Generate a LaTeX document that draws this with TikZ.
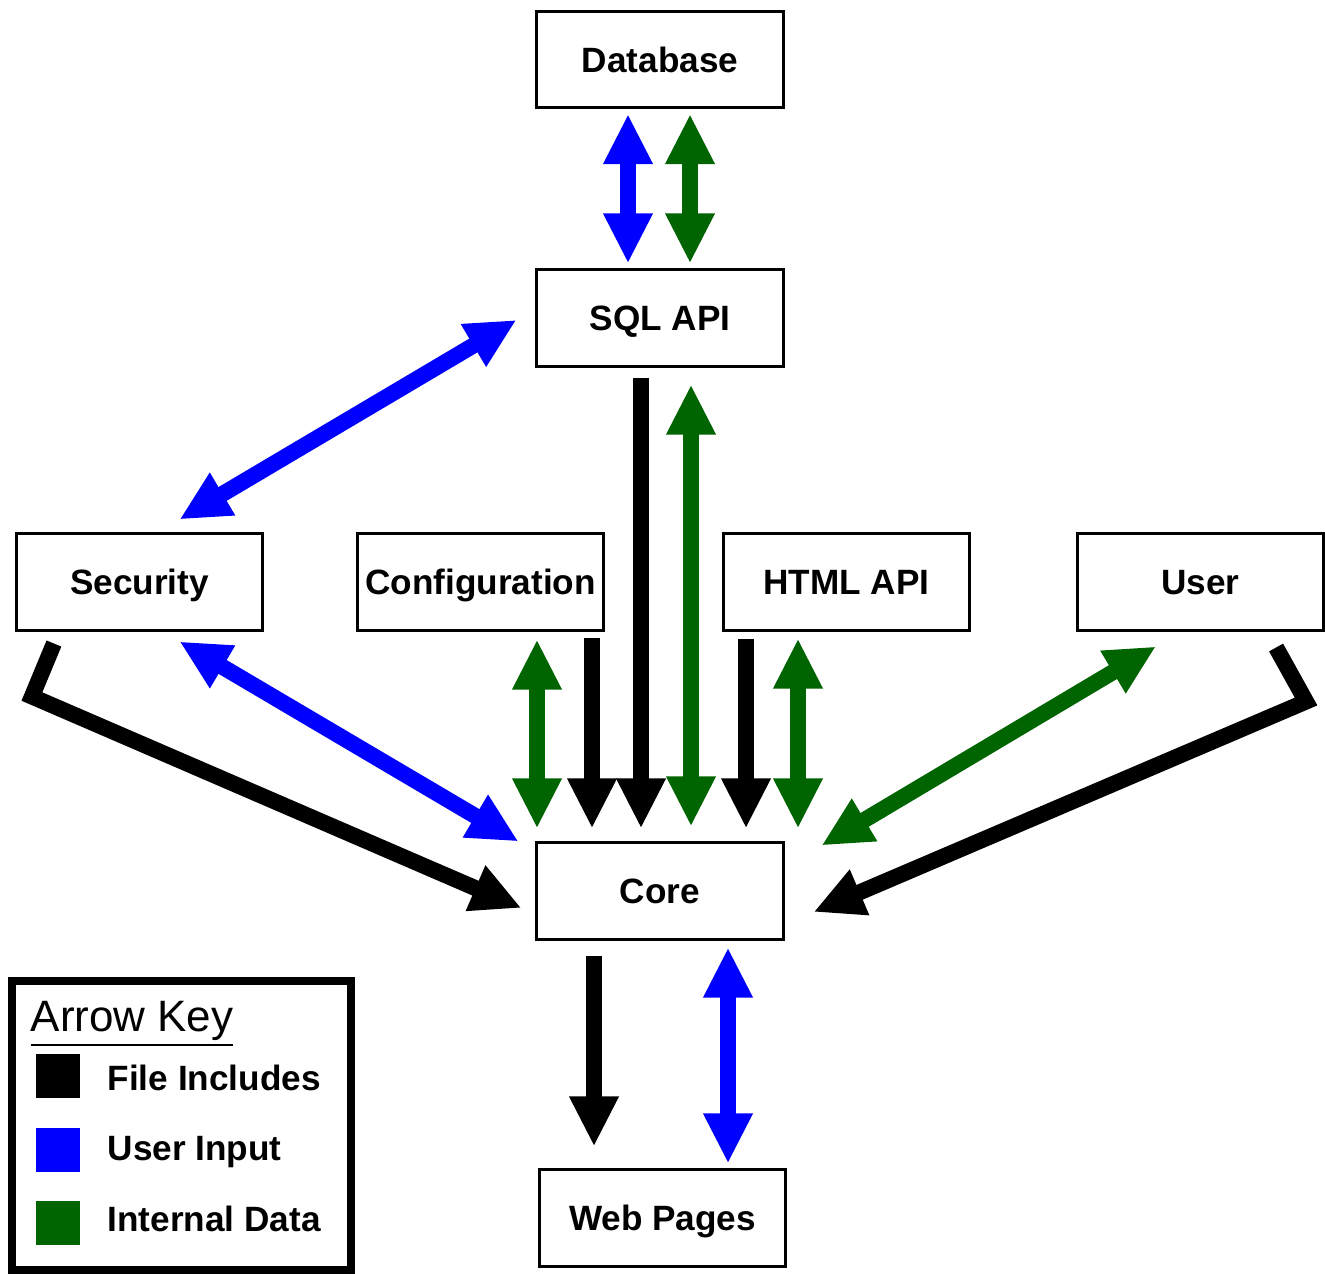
\documentclass[tikz,border=0pt]{standalone}
\usepackage{fontspec}
\setmainfont{Liberation Sans}
\usetikzlibrary{arrows.meta,calc}
\definecolor{inputblue}{RGB}{0,0,255}
\definecolor{datagreen}{RGB}{0,100,0}
\tikzset{
	module/.style={draw,line width=0.03cm,minimum width=2.46cm,minimum height=0.96cm,inner sep=0pt,text height=7.2pt,text depth=0pt,font=\bfseries\fontsize{10}{12}\selectfont},
	flow/.style={line width=0.16cm,-{Triangle[width=0.46cm,length=0.5cm]}},
	twoway/.style={line width=0.16cm,{Triangle[width=0.46cm,length=0.5cm]}-{Triangle[width=0.46cm,length=0.5cm]}},
	keybox/.style={minimum size=0.44cm,inner sep=0pt},
	keytext/.style={anchor=west,inner sep=0pt,font=\bfseries\fontsize{10}{12}\selectfont}
}

\begin{document}
\begin{tikzpicture}[x=0.01cm,y=-0.01cm]
				\useasboundingbox (0,0) rectangle (1325,1274);
				% modules
				\node[module] (db) at (660,59.5) {Database};
				\node[module] (sql) at (660,318) {SQL API};
				\node[module] (sec) at (139.5,582) {Security};
				\node[module] (conf) at (480.5,582) {Configuration};
				\node[module] (html) at (846.5,582) {HTML API};
				\node[module] (user) at (1200.5,582) {User};
				\node[module] (core) at (660,891) {Core};
				\node[module] (web) at (662.5,1218) {Web Pages};
				% database <-> sql
				\draw[twoway,inputblue] ($(db.south)+(-32,5)$) -- ($(sql.north)+(-32,-5)$);
				\draw[twoway,datagreen] ($(db.south)+(30,5)$) -- ($(sql.north)+(30,-5)$);
				\draw[twoway,inputblue] ($(sql.west)+(-19,2)$) -- ($(sec.north)+(40,-13)$);
				% into core
				\draw[flow] ($(sql.south)+(-19,10)$) -- ($(core.north)+(-19,-13)$);
				\draw[twoway,datagreen] ($(sql.south)+(31,17)$) -- ($(core.north)+(31,-15)$);
				\draw[twoway,inputblue] ($(sec.south)+(40,10)$) -- ($(core.north west)+(-17,0)$);
				\draw[flow,line join=miter] ($(sec.south west)+(39,12)$) -- ++(-22,53) -- ($(core.west)+(-14,17)$);
				\draw[twoway,datagreen] ($(conf.south)+(56.5,8)$) -- ($(core.north)+(-123,-13)$);
				\coordinate (cf) at ($(conf.south)+(111.5,6)$);
				\draw[flow] (cf) -- ($(cf |- core.north)+(0,-13)$);
				\coordinate (ht) at ($(html.south)+(-100.5,7)$);
				\draw[flow] (ht) -- ($(ht |- core.north)+(0,-13)$);
				\draw[twoway,datagreen] ($(html.south)+(-48.5,7)$) -- ($(core.north)+(138,-13)$);
				\draw[twoway,datagreen] ($(user.south west)+(80,15)$) -- ($(core.north east)+(37,4)$);
				\draw[flow,line join=miter] ($(user.south east)+(-49,16)$) -- ++(30,54) -- ($(core.east)+(29,21)$);
				% core -> web pages
				\draw[flow] ($(core.south)+(-66,15)$) -- ($(web.north)+(-68.5,-22)$);
				\draw[twoway,inputblue] ($(core.south)+(68,7)$) -- ($(web.north)+(65.5,-5)$);
				% arrow key
				\node[draw,line width=0.08cm,minimum width=3.39cm,minimum height=2.89cm,inner sep=0pt] (key) at (181.5,1125.5) {};
				\node[anchor=base west,inner sep=0pt,font=\fontsize{12.5}{14}\selectfont] (keytitle) at (30,1031) {\underline{Arrow Key}};
				\node[keybox,fill=black] (kinc) at (58,1076) {};
				\node[keybox,fill=inputblue] (kinp) at (58,1150) {};
				\node[keybox,fill=datagreen] (kdat) at (58,1223) {};
				\node[keytext] (tinc) at (107,1078) {File Includes};
				\node[keytext] (tinp) at (107,1152) {User Input};
				\node[keytext] (tdat) at (107,1219) {Internal Data};
\end{tikzpicture}
\end{document}
